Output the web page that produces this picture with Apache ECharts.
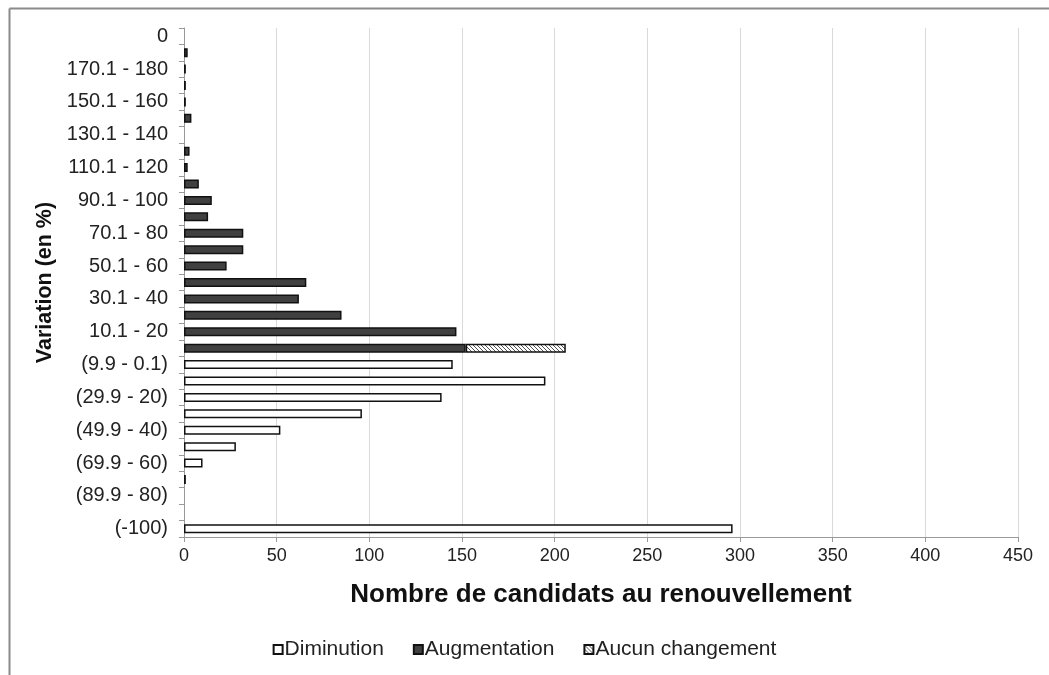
<!DOCTYPE html>
<html>
<head>
<meta charset="utf-8">
<script src="https://cdn.jsdelivr.net/npm/echarts@6/dist/echarts.min.js"></script>
<style>
html,body{margin:0;padding:0;background:#fff;}
#chart{width:1049px;height:675px;}
</style>
</head>
<body>
<div id="chart"></div>
<script>
// Categories, bottom to top
const categories = ["(-100)", "(99.9 - 90)", "(89.9 - 80)", "(79.9 - 70)", "(69.9 - 60)", "(59.9 - 50)", "(49.9 - 40)", "(39.9 - 30)", "(29.9 - 20)", "(19.9 - 10)", "(9.9 - 0.1)", "0 - 10", "10.1 - 20", "20.1 - 30", "30.1 - 40", "40.1 - 50", "50.1 - 60", "60.1 - 70", "70.1 - 80", "80.1 - 90", "90.1 - 100", "100.1 - 110", "110.1 - 120", "120.1 - 130", "130.1 - 140", "140.1 - 150", "150.1 - 160", "160.1 - 170", "170.1 - 180", "180.1 - 190", "0"];
const diminution   = [296, 0, 0, 0, 10, 28, 52, 96, 139, 195, 145, 0, 0, 0, 0, 0, 0, 0, 0, 0, 0, 0, 0, 0, 0, 0, 0, 0, 0, 0, 0];
const augmentation = [0, 0, 0, 1, 0, 0, 0, 0, 0, 0, 0, 152, 147, 85, 62, 66, 23, 32, 32, 13, 15, 8, 2, 3, 0, 4, 1, 1, 1, 2, 0];
const aucunChangement = [0, 0, 0, 0, 0, 0, 0, 0, 0, 0, 0, 54, 0, 0, 0, 0, 0, 0, 0, 0, 0, 0, 0, 0, 0, 0, 0, 0, 0, 0, 0];
const xTicks = [0, 50, 100, 150, 200, 250, 300, 350, 400, 450];

const clean = arr => arr.map(v => v === 0 ? '-' : v);

// hatch pattern
const pc = document.createElement('canvas');
pc.width = 4; pc.height = 4;
const ctx = pc.getContext('2d');
ctx.fillStyle = '#ffffff';
ctx.fillRect(0, 0, 4, 4);
ctx.strokeStyle = '#555555';
ctx.lineWidth = 1;
ctx.beginPath();
ctx.moveTo(-1, -1); ctx.lineTo(5, 5);
ctx.moveTo(-1, 3); ctx.lineTo(1, 5);
ctx.moveTo(3, -1); ctx.lineTo(5, 1);
ctx.stroke();

const FONT = '"Liberation Sans", Arial, sans-serif';
const chart = echarts.init(document.getElementById('chart'));
chart.setOption({
  animation: false,
  backgroundColor: '#ffffff',
  textStyle: { fontFamily: FONT },
  grid: { left: 184, right: 31, top: 28, bottom: 138, containLabel: false },
  graphic: [
    { type: 'line', shape: { x1: 9.5, y1: 8.5, x2: 1049, y2: 8.5 }, style: { stroke: '#8a8a8a', lineWidth: 2 } },
    { type: 'line', shape: { x1: 9.5, y1: 8.5, x2: 9.5, y2: 675 }, style: { stroke: '#8a8a8a', lineWidth: 2 } }
  ],
  legend: {
    bottom: 10,
    left: 'center',
    itemWidth: 9,
    itemHeight: 9,
    itemGap: 29,
    icon: 'rect',
    textStyle: { fontSize: 21, color: '#222', fontFamily: FONT, padding: [0, 0, 0, -3] },
    data: ['Diminution', 'Augmentation', 'Aucun changement']
  },
  xAxis: {
    type: 'value',
    min: xTicks[0],
    max: xTicks[xTicks.length - 1],
    interval: 50,
    name: 'Nombre de candidats au renouvellement',
    nameLocation: 'middle',
    nameGap: 45,
    nameTextStyle: { fontSize: 26, fontWeight: 'bold', color: '#111', fontFamily: FONT },
    axisLine: { show: true, lineStyle: { color: '#999', width: 1 } },
    axisTick: { show: true, length: 5, lineStyle: { color: '#999' } },
    axisLabel: { fontSize: 18, color: '#222', margin: 10, fontFamily: FONT },
    splitLine: { show: true, lineStyle: { color: '#d9d9d9', width: 1 } }
  },
  yAxis: {
    type: 'category',
    data: categories,
    name: 'Variation (en %)',
    nameLocation: 'middle',
    nameGap: 127,
    nameRotate: 90,
    nameTextStyle: { fontSize: 21.5, fontWeight: 'bold', color: '#111', fontFamily: FONT },
    axisLine: { show: true, lineStyle: { color: '#999', width: 1 } },
    axisTick: { show: true, length: 5, interval: 0, lineStyle: { color: '#999' } },
    axisLabel: { interval: 1, fontSize: 20, color: '#222', margin: 16, fontFamily: FONT },
    splitLine: { show: false }
  },
  series: [
    {
      name: 'Diminution', type: 'bar', stack: 'total', barWidth: 9,
      itemStyle: { color: '#ffffff', borderColor: '#111', borderWidth: 1.5 },
      data: clean(diminution)
    },
    {
      name: 'Augmentation', type: 'bar', stack: 'total', barWidth: 9,
      itemStyle: { color: '#404040', borderColor: '#111', borderWidth: 1.5 },
      data: clean(augmentation)
    },
    {
      name: 'Aucun changement', type: 'bar', stack: 'total', barWidth: 9,
      itemStyle: { color: { image: pc, repeat: 'repeat' }, borderColor: '#111', borderWidth: 1.5 },
      data: clean(aucunChangement)
    }
  ]
});
</script>
</body>
</html>
